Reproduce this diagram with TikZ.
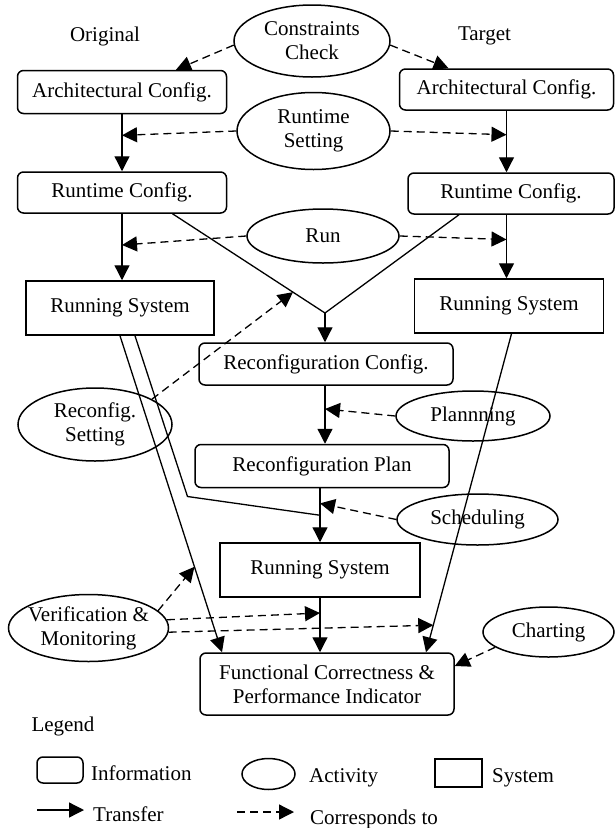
\documentclass[tikz,border=0pt]{standalone}
\usepackage{fontspec}
\setmainfont{Liberation Serif}
\usetikzlibrary{arrows.meta,shapes.geometric,calc}
% zero-width line so ellipse sizes come only from their minimum dimensions
\newcommand{\zline}[1]{\makebox[0pt]{#1}}
\begin{document}
\begin{tikzpicture}[x=1pt,y=-1pt,
  every node/.style={font=\fontsize{21}{24}\selectfont, inner sep=0pt},
  info/.style={draw, rounded corners=6pt, line width=1.5pt},
  sys/.style={draw, line width=1.5pt},
  act/.style={draw, ellipse, line width=1.5pt, align=center},
  plain/.style={line width=1.3pt},
  transfer/.style={line width=1.3pt, -{Triangle[length=15pt,width=15pt]}},
  corr/.style={line width=1.3pt, dash pattern=on 8pt off 5pt, -{Triangle[length=15pt,width=15pt]}}
]
\useasboundingbox (0,0) rectangle (615,828);

% column headings
\node (orig) at (105,36) {Original};
\node (targ) at (484.5,36) {Target};

% information items
\node[info, minimum width=209pt, minimum height=43pt] (acL) at (122,92) {Architectural Config.};
\node[info, minimum width=214pt, minimum height=41pt] (acR) at (506.5,89.5) {Architectural Config.};
\node[info, minimum width=209pt, minimum height=41pt] (rcL) at (122,192.5) {Runtime Config.};
\node[info, minimum width=206pt, minimum height=41pt] (rcR) at (511,193.5) {Runtime Config.};
\node[info, minimum width=254pt, minimum height=42pt] (rcc) at (326,364) {Reconfiguration Config.};
\node[info, minimum width=254pt, minimum height=43pt] (rplan) at (322,466) {Reconfiguration Plan};
\node[info, minimum width=254pt, minimum height=62pt, align=center] (fc) at (327,684) {Functional Correctness \&\\Performance Indicator};

% systems
\node[sys, minimum width=188pt, minimum height=54pt] (rsL) at (120,308) {Running System};
\node[sys, minimum width=189pt, minimum height=54pt] (rsR) at (509,306) {Running System};
\node[sys, minimum width=200pt, minimum height=54pt] (rsM) at (320,570) {Running System};

% activities
\node[act, minimum width=156pt, minimum height=72pt] (cc) at (312,41) {\zline{Constraints}\\\zline{Check}};
\node[act, minimum width=153pt, minimum height=77pt] (rs) at (313.5,131) {\zline{Runtime}\\\zline{Setting}};
\node[act, minimum width=152pt, minimum height=54pt] (run) at (323,236) {\zline{Run}};
\node[act, minimum width=154pt, minimum height=73pt] (rcs) at (95,424.5) {\zline{Reconfig.}\\\zline{Setting}};
\node[act, minimum width=154pt, minimum height=50pt] (plan) at (473,416) {\zline{Plannning}};
\node[act, minimum width=161pt, minimum height=51pt] (sched) at (477.5,519.5) {\zline{Scheduling}};
\node[act, minimum width=160pt, minimum height=67pt] (vm) at (88.5,628) {\zline{Verification \&}\\\zline{Monitoring}};
\node[act, minimum width=131pt, minimum height=50pt] (chart) at (548.5,632) {\zline{Charting}};

% transfers down both columns
\draw[transfer] (acL.south) -- (acL.south |- rcL.north);
\draw[transfer] (acR.south) -- (acR.south |- rcR.north);
\draw[transfer] (rcL.south) -- (rcL.south |- rsL.north);
\draw[transfer] (rcR.south -| acR.south) -- (acR.south |- rsR.north);

% merge of both runtime configurations
\coordinate (vL) at ([xshift=50.5pt]rcL.south);
\coordinate (vR) at ([xshift=-52pt]rcR.south);
\coordinate (apex) at (325,313);
\draw[plain] (vL) -- (apex) -- (vR);
\draw[transfer] (apex) -- (apex |- rcc.north);

% middle column
\draw[transfer] (rcc.south -| apex) -- (apex |- rplan.north);
\draw[transfer] (rplan.south -| rsM.north) -- (rsM.north);
\draw[transfer] (rsM.south) -- (rsM.south |- fc.north);

% lines from the running systems to the indicator
\coordinate (oL) at (rsL.south);
\coordinate (fcL) at ([xshift=-105pt]fc.north);
\coordinate (iL) at ([xshift=15pt]rsL.south);
\coordinate (bend) at (187.5,496.5);
\coordinate (oR) at ([xshift=2.5pt]rsR.south);
\coordinate (fcR) at ([xshift=99pt]fc.north);
\draw[transfer] (oL) -- (fcL);
\draw[plain] (iL) -- (bend) -- ($(rplan.south -| rsM.north)!0.5!(rsM.north)$);
\draw[transfer] (oR) -- (fcR);

% correspondences
\draw[corr] (cc.183) -- ([xshift=54pt]acL.north);
\draw[corr] (cc.-3) -- ([xshift=-58pt]acR.north);
\draw[corr] (rs.west) -- ($(acL.south)!0.37!(acL.south |- rcL.north)$);
\draw[corr] (rs.east) -- ($(acR.south)!0.39!(acR.south |- rcR.north)$);
\draw[corr] (run.west) -- ($(rcL.south)!0.47!(rcL.south |- rsL.north)$);
\draw[corr] (run.east) -- ($(rcR.south -| acR.south)!0.39!(acR.south |- rsR.north)$);
\draw[corr] (rcs.24) -- ($(vL)!0.79!(apex)$);
\draw[corr] (plan.west) -- ($(rcc.south -| apex)!0.4!(apex |- rplan.north)$);
\draw[corr] (sched.west) -- ($(rplan.south -| rsM.north)!0.28!(rsM.north)$);
\draw[corr] (vm.14) -- ($(oL)!0.73!(fcL)$);
\draw[corr] (vm.6) -- ($(rsM.south)!0.28!(rsM.south |- fc.north)$);
\draw[corr] (vm.-3) -- ($(oR)!0.915!(fcR)$);
\draw[corr] (chart.196) -- ([yshift=18pt]fc.east);

% legend
\node (leg) at (63,726) {Legend};
\node[info, minimum width=46pt, minimum height=26pt] (lgInfo) at (60,770) {};
\node[anchor=base west] (lgInfoT) at (91,780) {Information};
\node[draw, ellipse, line width=1.5pt, minimum width=53pt, minimum height=31pt] (lgAct) at (268.5,774) {};
\node[anchor=base west] (lgActT) at (309,782) {Activity};
\node[sys, minimum width=47pt, minimum height=28pt] (lgSys) at (458.5,773) {};
\node[anchor=base west] (lgSysT) at (492,782) {System};
\coordinate (lgT1) at (37,810);
\coordinate (lgT2) at (84,810);
\draw[transfer] (lgT1) -- (lgT2);
\node[anchor=base west] (lgTT) at (93,821) {Transfer};
\coordinate (lgC1) at (237,812);
\coordinate (lgC2) at (294,812);
\draw[corr] (lgC1) -- (lgC2);
\node[anchor=base west] (lgCT) at (310,824) {Corresponds to};
\end{tikzpicture}
\end{document}
